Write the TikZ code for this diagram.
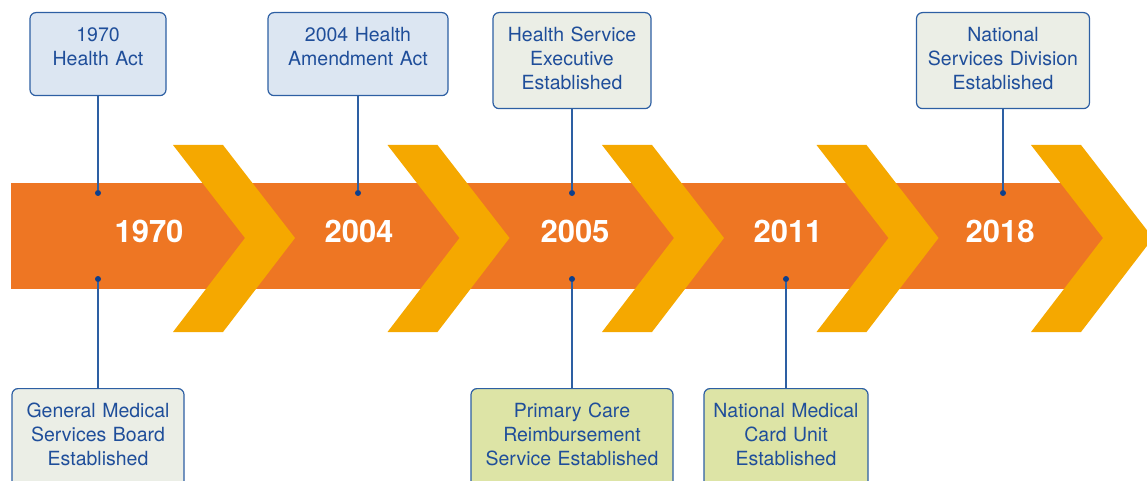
\documentclass[tikz,border=0pt]{standalone}
\usepackage{fontspec}
\setmainfont{TeX Gyre Heros}
\definecolor{bandorange}{HTML}{EE7623}
\definecolor{chevyellow}{HTML}{F5A800}
\definecolor{boxline}{HTML}{2D5FA3}
\definecolor{evtext}{HTML}{1F4E9A}
\definecolor{dotblue}{HTML}{0E3F8C}
\definecolor{fillblue}{HTML}{DCE6F2}
\definecolor{fillgrey}{HTML}{EBEEE6}
\definecolor{fillgreen}{HTML}{DDE4A6}
\tikzset{
	evbox/.style={draw=boxline,line width=1.2pt,rounded corners=6pt,text=evtext,align=center,anchor=north,inner xsep=3pt,inner ysep=9pt,text height=20pt,font=\fontsize{19.5}{24}\selectfont},
	evdot/.style={circle,fill=dotblue,inner sep=0pt,minimum size=6pt},
	stem/.style={draw=boxline,line width=1.3pt},
	year/.style={text=white,font=\fontsize{31}{36}\selectfont\bfseries}
}
\begin{document}
\begin{tikzpicture}[x=1pt,y=-1pt]
	\useasboundingbox (0,0) rectangle (1147,481);
	\fill[bandorange] (11,183) rectangle (1105,289);
	\foreach \cx in {173,387.5,602,816.5,1031}
		\fill[chevyellow] (\cx,145) --++ (50,0) --++ (72,93) --++ (-72,94) --++ (-50,0) --++ (72,-94) -- cycle;
	\foreach \yr/\cx in {1970/149,2004/359,2005/575,2011/788,2018/1000}
		\node[year] (y\yr) at (\cx,231) {\yr};
	% top events
	\node[evbox,fill=fillblue,text width=130pt,text depth=45pt] (act1970) at (98,12) {1970\\Health Act};
	\node[evbox,fill=fillblue,text width=174pt,text depth=45pt] (act2004) at (358,12) {2004 Health\\Amendment Act};
	\node[evbox,fill=fillgrey,text width=152pt,text depth=58pt] (hse) at (572,12) {Health Service\\Executive\\Established};
	\node[evbox,fill=fillgrey,text width=167pt,text depth=58pt] (nsd) at (1003,12) {National\\Services Division\\Established};
	% bottom events
	\node[evbox,fill=fillgrey,text width=166pt,text depth=80pt] (gmsb) at (98,388) {General Medical\\Services Board\\Established};
	\node[evbox,fill=fillgreen,text width=196pt,text depth=80pt] (pcrs) at (572,388) {Primary Care\\Reimbursement\\Service Established};
	\node[evbox,fill=fillgreen,text width=158pt,text depth=80pt] (nmcu) at (786,388) {National Medical\\Card Unit\\Established};
	\foreach \ev/\cx in {act1970/98,act2004/358,hse/572,nsd/1003}{
		\node[evdot] (\ev-dot) at (\cx,193) {};
		\draw[stem] (\ev) -- (\ev-dot);
	}
	\foreach \ev/\cx in {gmsb/98,pcrs/572,nmcu/786}{
		\node[evdot] (\ev-dot) at (\cx,279) {};
		\draw[stem] (\ev-dot) -- (\ev);
	}
\end{tikzpicture}
\end{document}
